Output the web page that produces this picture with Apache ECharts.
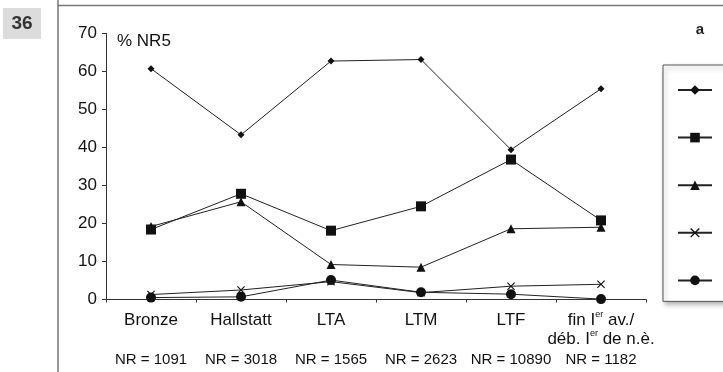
<!DOCTYPE html>
<html>
<head>
<meta charset="utf-8">
<script src="https://cdn.jsdelivr.net/npm/echarts@6/dist/echarts.min.js"></script>
<style>
html,body{margin:0;padding:0;background:#fff;}
#chart{width:723px;height:372px;}
</style>
</head>
<body>
<div id="chart"></div>
<script>
var categories = ['Bronze', 'Hallstatt', 'LTA', 'LTM', 'LTF', 'fin Ier av./\ndéb. Ier de n.è.'];
var nrLabels = ['NR = 1091', 'NR = 3018', 'NR = 1565', 'NR = 2623', 'NR = 10890', 'NR = 1182'];
var seriesNames = ['bœuf', 'porc', 'caprinés', 'cheval', 'chien'];
var s1 = [60.7, 43.3, 62.7, 63.1, 39.4, 55.4];
var s2 = [18.4, 27.8, 18.1, 24.5, 36.8, 20.8];
var s3 = [19.2, 25.7, 9.2, 8.5, 18.6, 19.0];
var s4 = [1.3, 2.5, 4.7, 1.8, 3.5, 4.0];
var s5 = [0.5, 0.7, 5.1, 1.9, 1.4, 0.1];
var yTicks = [0, 10, 20, 30, 40, 50, 60, 70];

var FONT = 'Liberation Sans, Arial, sans-serif';
var crossPath = 'path://M0,1 L1,0 L5,4 L9,0 L10,1 L6,5 L10,9 L9,10 L5,6 L1,10 L0,9 L4,5 Z';
var symbols = ['diamond', 'rect', 'triangle', crossPath, 'circle'];
var sizes = [7, 10, 9, 8, 10];
var data = [s1, s2, s3, s4, s5];

var chart = echarts.init(document.getElementById('chart'), null, {renderer: 'canvas'});

var series = data.map(function (d, i) {
  return {
    name: seriesNames[i],
    type: 'line',
    xAxisIndex: 0,
    data: d,
    symbol: symbols[i],
    symbolSize: sizes[i],
    showAllSymbol: true,
    lineStyle: {color: '#222', width: 1},
    itemStyle: {color: '#111'},
    emphasis: {disabled: true},
    animation: false,
    z: 3 + i
  };
});

var option = {
  animation: false,
  backgroundColor: '#fff',
  grid: {left: 106, right: 77, top: 33.3, bottom: 72.5, containLabel: false},
  legend: {
    orient: 'vertical',
    left: 663,
    top: 65,
    padding: [19, 40, 15, 14],
    itemGap: 35.6,
    itemWidth: 34,
    itemHeight: 12,
    backgroundColor: '#fff',
    borderColor: '#555',
    borderWidth: 1,
    shadowBlur: 5,
    shadowOffsetX: 2,
    shadowOffsetY: 3,
    shadowColor: 'rgba(0,0,0,0.35)',
    textStyle: {fontFamily: FONT, fontSize: 12, lineHeight: 12, color: '#000', padding: [0, 0, 0, 14]},
    selectedMode: false,
    data: seriesNames
  },
  xAxis: [{
    type: 'category',
    data: categories,
    boundaryGap: true,
    axisLine: {lineStyle: {color: '#333', width: 1}},
    axisTick: {show: true, interval: 0, length: 3, lineStyle: {color: '#333'}},
    axisLabel: {
      interval: 0,
      margin: 11,
      fontFamily: FONT,
      fontSize: 17,
      color: '#111',
      lineHeight: 19,
      formatter: function (v) {
        return v.replace(/Ier/g, 'I{sup|er}');
      },
      rich: {
        sup: {fontSize: 9, fontFamily: FONT, color: '#111', verticalAlign: 'top', lineHeight: 19, padding: [0, 0, 6, 0]}
      }
    }
  }, {
    type: 'category',
    data: nrLabels,
    position: 'bottom',
    offset: 42,
    boundaryGap: true,
    axisLine: {show: false},
    axisTick: {show: false},
    axisLabel: {interval: 0, margin: 11, fontFamily: FONT, fontSize: 15, color: '#111'}
  }],
  yAxis: {
    type: 'value',
    min: 0,
    max: 70,
    interval: 10,
    axisLine: {show: true, lineStyle: {color: '#333', width: 1}},
    axisTick: {show: true, length: 4, lineStyle: {color: '#333'}},
    splitLine: {show: false},
    axisLabel: {margin: 9, fontFamily: FONT, fontSize: 17, color: '#111',
      formatter: function (v) { return yTicks.indexOf(v) >= 0 ? String(v) : ''; }}
  },
  graphic: [
    {type: 'line', shape: {x1: 58, y1: 0, x2: 58, y2: 372}, style: {stroke: '#777', lineWidth: 1.5}},
    {type: 'line', shape: {x1: 58, y1: 5.5, x2: 723, y2: 5.5}, style: {stroke: '#777', lineWidth: 1.5}},
    {type: 'rect', shape: {x: 3, y: 8, width: 38, height: 31}, style: {fill: '#dcdcdc'}},
    {type: 'text', x: 22, y: 24, style: {text: '36', fontFamily: FONT, fontSize: 19, fontWeight: 'bold', fill: '#333', align: 'center', verticalAlign: 'middle'}},
    {type: 'text', x: 700, y: 30, style: {text: 'a', fontFamily: FONT, fontSize: 15, fontWeight: 'bold', fill: '#222', align: 'center', verticalAlign: 'middle'}},
    {type: 'text', x: 117, y: 41, style: {text: '% NR5', fontFamily: FONT, fontSize: 17, fill: '#111', align: 'left', verticalAlign: 'middle'}}
  ],
  series: series
};
chart.setOption(option);
</script>
</body>
</html>
